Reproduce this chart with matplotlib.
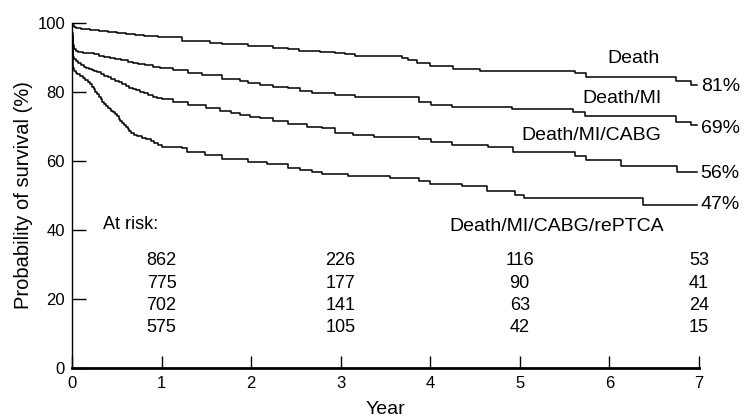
import numpy as np
import matplotlib
matplotlib.use("Agg")
import matplotlib.pyplot as plt

plt.rcParams['font.family'] = ['Liberation Sans', 'DejaVu Sans']

#----- Data -----------------------------------------------------------------------------------

# Kaplan-Meier curves, (year, % event free after that time)
death_t = [0, 0.005, 0.02, 0.05, 0.1, 0.2, 0.3, 0.4, 0.5, 0.6, 0.7, 0.8, 0.96, 1.23, 1.54, 1.67,
           1.97, 2.25, 2.41, 2.54, 2.77, 2.94, 3.05, 3.16, 3.68, 3.75, 3.85, 4.0, 4.26, 4.56, 5.62,
           5.74, 6.74, 6.91, 6.98]
death_v = [100, 99.2, 98.7, 98.4, 98.2, 97.9, 97.6, 97.3, 97.0, 96.8, 96.5, 96.2, 95.9, 94.8, 94.2, 93.7,
           93.2, 92.8, 92.4, 91.8, 91.5, 91.2, 90.9, 90.3, 89.8, 89.2, 88.4, 87.4, 86.7, 86.0, 85.4,
           84.2, 83.0, 81.9, 81.9]

mi_t = [0, 0.003, 0.006, 0.01, 0.02, 0.04, 0.07, 0.12, 0.18, 0.24, 0.3, 0.36, 0.42, 0.48, 0.55,
        0.62, 0.68, 0.74, 0.82, 0.9, 0.98, 1.13, 1.30, 1.45, 1.67, 1.88, 1.97, 2.1, 2.25, 2.41,
        2.55, 2.68, 2.94, 3.16, 3.87, 4.01, 4.24, 4.91, 5.60, 5.73, 6.74, 6.91, 6.98]
mi_v = [100, 97, 95, 93.5, 92.5, 91.9, 91.6, 91.3, 91.1, 90.8, 90.5, 90.2, 89.9, 89.5, 89.1,
        88.7, 88.4, 88.1, 87.7, 87.3, 87.0, 86.3, 85.3, 84.8, 83.6, 83.1, 82.4, 82.0, 81.4, 81.0,
        80.3, 79.7, 79.0, 78.4, 77.1, 76.1, 75.7, 74.9, 74.2, 73.0, 71.3, 70.3, 70.3]

cabg_t = [0, 0.003, 0.006, 0.01, 0.02, 0.04, 0.07, 0.1, 0.13, 0.16, 0.19, 0.22, 0.25, 0.28, 0.32,
          0.36, 0.40, 0.44, 0.48, 0.52, 0.56, 0.60, 0.64, 0.68, 0.72, 0.76, 0.80, 0.85, 0.90, 0.95,
          1.0, 1.13, 1.30, 1.50, 1.65, 1.77, 1.88, 1.99, 2.1, 2.25, 2.41, 2.62, 2.79, 2.94, 3.14,
          3.37, 3.87, 4.01, 4.24, 4.65, 4.92, 5.62, 5.74, 6.13, 6.76, 6.98]
cabg_v = [100, 96, 92, 90, 89.4, 88.9, 88.2, 87.7, 87.3, 87.0, 86.7, 86.3, 85.9, 85.6, 85.2,
          84.7, 84.2, 83.7, 83.2, 82.7, 82.2, 81.7, 81.2, 80.8, 80.4, 80.0, 79.5, 79.0, 78.5, 78.2,
          77.9, 77.1, 76.1, 75.2, 74.5, 73.9, 73.3, 72.8, 72.3, 71.6, 70.6, 69.9, 69.4, 68.1, 67.4,
          66.8, 66.2, 65.5, 64.6, 63.9, 62.4, 61.4, 60.2, 58.6, 56.6, 56.6]

ptca_t = [0, 0.003, 0.006, 0.01, 0.02, 0.04, 0.06, 0.09, 0.12, 0.15, 0.18, 0.2, 0.22, 0.24, 0.26,
          0.28, 0.30, 0.32, 0.34, 0.36, 0.38, 0.40, 0.42, 0.44, 0.46, 0.48, 0.50, 0.52, 0.54, 0.56,
          0.58, 0.60, 0.62, 0.64, 0.66, 0.69, 0.73, 0.78, 0.83, 0.88, 0.92, 0.96, 1.0, 1.23, 1.28,
          1.49, 1.67, 1.97, 2.18, 2.41, 2.55, 2.68, 2.79, 3.08, 3.55, 3.87, 4.0, 4.35, 4.63, 4.95,
          5.05, 6.38, 6.98]
ptca_v = [100, 95, 90, 87, 86, 85.5, 85.0, 84.5, 84.0, 83.5, 82.8, 82.2, 81.5, 80.7, 80.0,
          79.3, 78.6, 77.9, 77.1, 76.4, 75.8, 75.4, 75.0, 74.5, 74.0, 73.5, 72.9, 72.2, 71.5, 70.9,
          70.3, 69.7, 69.1, 68.6, 68.1, 67.6, 67.1, 66.6, 66.2, 65.7, 65.1, 64.6, 64.1, 63.6, 62.6,
          61.7, 60.4, 59.7, 59.0, 57.9, 57.3, 56.8, 56.2, 55.6, 54.9, 54.1, 53.4, 52.7, 51.3, 50.2,
          49.3, 47.3, 47.3]

curve_names = ["Death", "Death/MI", "Death/MI/CABG", "Death/MI/CABG/rePTCA"]
end_pct = ["81%", "69%", "56%", "47%"]
name_y = [89.7, 78.1, 67.4, 40.9]
name_x = [6.56, 6.58, 6.58, 6.61]
pct_y = [81.4, 69.4, 56.3, 47.2]

risk_years = [1, 3, 5, 7]
at_risk = [[862, 226, 116, 53],
           [775, 177, 90, 41],
           [702, 141, 63, 24],
           [575, 105, 42, 15]]
risk_y = [31.0, 24.5, 18.0, 11.6]

#----- Plot -----------------------------------------------------------------------------------

fig = plt.figure(figsize=(7.44, 4.17), dpi=100)
ax = fig.add_axes([0.0968, 0.118, 0.8425, 0.8275])

for t, v in [(death_t, death_v), (mi_t, mi_v), (cabg_t, cabg_v), (ptca_t, ptca_v)]:
    ax.step(t, v, where='post', color='black', lw=1.1)

for i in range(len(curve_names)):
    ax.text(name_x[i], name_y[i], curve_names[i], ha='right', va='center', fontsize=14)
    ax.text(7.02, pct_y[i], end_pct[i], ha='left', va='center', fontsize=14, clip_on=False)

ax.text(0.35, 41.4, "At risk:", ha='left', va='center', fontsize=13)
for r in range(len(at_risk)):
    for c in range(len(risk_years)):
        ax.text(risk_years[c], risk_y[r], str(at_risk[r][c]), ha='center', va='center', fontsize=13)

ax.set_xlim(0, 7)
ax.set_ylim(0, 100)
ax.set_xticks(range(0, 8))
ax.set_yticks([0, 20, 40, 60, 80, 100])
ax.spines['top'].set_visible(False)
ax.spines['right'].set_visible(False)
ax.spines['bottom'].set_linewidth(2.0)
ax.spines['left'].set_linewidth(1.0)
ax.tick_params(axis='y', direction='in', length=10, width=1, labelsize=12, pad=5)
ax.tick_params(axis='x', direction='in', length=9, width=1, labelsize=12, pad=6)
ax.set_xlabel("Year", fontsize=14)
ax.set_ylabel("Probability of survival (%)", fontsize=14.5)
ax.xaxis.set_label_coords(0.5, -0.095)
ax.yaxis.set_label_coords(-0.062, 0.5)

plt.savefig("out.png", dpi=100)
